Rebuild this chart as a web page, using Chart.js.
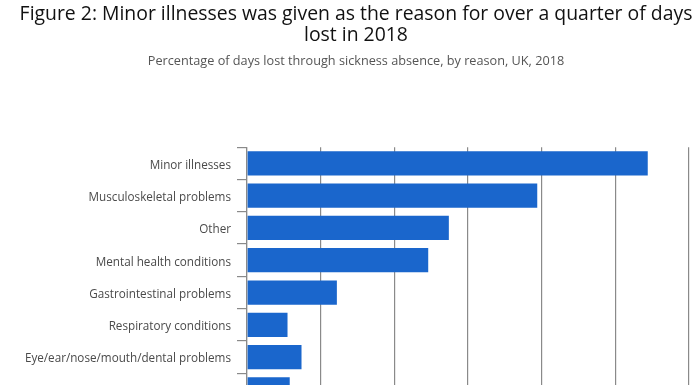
<!DOCTYPE html>
<html>
<head>
<meta charset="utf-8">
<script src="https://cdn.jsdelivr.net/npm/chart.js@4/dist/chart.umd.min.js"></script>
<style>
  html, body { margin: 0; padding: 0; background: #fff; overflow: hidden; }
  .wrap { position: relative; width: 696px; height: 426px; }
</style>
</head>
<body>
<div class="wrap"><canvas class="js-reasons"></canvas></div>
<script>
const reasons = [
  "Minor illnesses",
  "Musculoskeletal problems",
  "Other",
  "Mental health conditions",
  "Gastrointestinal problems",
  "Respiratory conditions",
  "Eye/ear/nose/mouth/dental problems",
  "Genitourinary problems",
];
const percentLost = [27.2, 19.7, 13.7, 12.3, 6.1, 2.75, 3.7, 2.9];
const xTicks = [0, 5, 10, 15, 20, 25, 30];

const titleLines = [
  "Figure 2: Minor illnesses was given as the reason for over a quarter of days",
  "lost in 2018",
];
const subtitleText = "Percentage of days lost through sickness absence, by reason, UK, 2018";

const padLeft = 16;

const chartreasons = function () {
  const el = document.querySelector(".js-reasons");

  new Chart(el, {
    type: "bar",
    data: {
      labels: reasons,
      datasets: [
        {
          label: "Days lost (%)",
          backgroundColor: "#1a66cc",
          data: percentLost,
          barPercentage: 0.75,
          categoryPercentage: 1,
        },
      ],
    },
    options: {
      indexAxis: "y",
      animation: false,
      responsive: true,
      maintainAspectRatio: false,
      layout: { padding: { left: padLeft, right: 0, top: 0, bottom: 0 } },
      scales: {
        x: {
          min: xTicks[0],
          max: xTicks[xTicks.length - 1],
          grid: { color: "#8a8a8a", lineWidth: 1.2, drawTicks: false },
          border: { display: false },
          ticks: {
            stepSize: xTicks[1] - xTicks[0],
            color: "#444",
            font: { family: "Open Sans", size: 12 },
          },
          // last gridline sits at x ~689 in the original
          afterFit: (scale) => {
            scale.paddingRight = 7;
          },
        },
        y: {
          grid: {
            drawOnChartArea: false,
            color: "#8a8a8a",
            lineWidth: 1.2,
            tickLength: 10,
          },
          border: { display: true, color: "#8a8a8a", width: 1.2 },
          ticks: {
            color: "#4a4a4a",
            padding: 6,
            labelOffset: 2,
            font: { family: "Open Sans", size: 11.7 },
          },
          // keep the axis line at x = 247 like the original
          afterFit: (scale) => {
            scale.width = 247 - padLeft;
          },
        },
      },
      plugins: {
        legend: { display: false },
        tooltip: { enabled: false },
        title: {
          display: true,
          text: titleLines,
          color: "#111",
          font: { family: "Open Sans", size: 19.4, weight: "normal", lineHeight: 1.08 },
          padding: { top: 4, bottom: 5 },
        },
        subtitle: {
          display: true,
          text: subtitleText,
          color: "#555",
          font: { family: "Open Sans", size: 12.7, weight: "normal" },
          padding: { top: 3, bottom: 78 },
        },
      },
    },
  });
};

chartreasons();
</script>
</body>
</html>
